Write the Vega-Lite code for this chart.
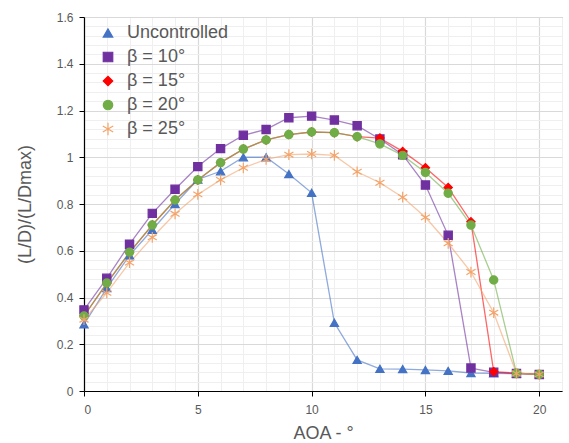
{
  "$schema": "https://vega.github.io/schema/vega-lite/v6.json",
  "width": 478,
  "height": 374,
  "autosize": "none",
  "padding": {"left": 84, "top": 17, "right": 7, "bottom": 52},
  "background": "white",
  "config": {
    "font": "Liberation Sans",
    "view": {"stroke": "#595959", "strokeWidth": 1}
  },
  "datasets": {
    "d": [
      {"aoa":0,"v":0.285,"s":"Uncontrolled"},{"aoa":1,"v":0.44,"s":"Uncontrolled"},{"aoa":2,"v":0.58,"s":"Uncontrolled"},{"aoa":3,"v":0.69,"s":"Uncontrolled"},{"aoa":4,"v":0.80,"s":"Uncontrolled"},{"aoa":5,"v":0.905,"s":"Uncontrolled"},{"aoa":6,"v":0.94,"s":"Uncontrolled"},{"aoa":7,"v":1.0,"s":"Uncontrolled"},{"aoa":8,"v":1.0,"s":"Uncontrolled"},{"aoa":9,"v":0.928,"s":"Uncontrolled"},{"aoa":10,"v":0.848,"s":"Uncontrolled"},{"aoa":11,"v":0.292,"s":"Uncontrolled"},{"aoa":12,"v":0.133,"s":"Uncontrolled"},{"aoa":13,"v":0.095,"s":"Uncontrolled"},{"aoa":14,"v":0.094,"s":"Uncontrolled"},{"aoa":15,"v":0.09,"s":"Uncontrolled"},{"aoa":16,"v":0.086,"s":"Uncontrolled"},{"aoa":17,"v":0.077,"s":"Uncontrolled"},{"aoa":18,"v":0.076,"s":"Uncontrolled"},{"aoa":19,"v":0.074,"s":"Uncontrolled"},{"aoa":20,"v":0.071,"s":"Uncontrolled"},
      {"aoa":0,"v":0.347,"s":"β = 10°"},{"aoa":1,"v":0.482,"s":"β = 10°"},{"aoa":2,"v":0.628,"s":"β = 10°"},{"aoa":3,"v":0.76,"s":"β = 10°"},{"aoa":4,"v":0.863,"s":"β = 10°"},{"aoa":5,"v":0.96,"s":"β = 10°"},{"aoa":6,"v":1.037,"s":"β = 10°"},{"aoa":7,"v":1.094,"s":"β = 10°"},{"aoa":8,"v":1.119,"s":"β = 10°"},{"aoa":9,"v":1.169,"s":"β = 10°"},{"aoa":10,"v":1.176,"s":"β = 10°"},{"aoa":11,"v":1.159,"s":"β = 10°"},{"aoa":12,"v":1.135,"s":"β = 10°"},{"aoa":13,"v":1.078,"s":"β = 10°"},{"aoa":14,"v":1.011,"s":"β = 10°"},{"aoa":15,"v":0.881,"s":"β = 10°"},{"aoa":16,"v":0.666,"s":"β = 10°"},{"aoa":17,"v":0.098,"s":"β = 10°"},{"aoa":18,"v":0.08,"s":"β = 10°"},{"aoa":19,"v":0.075,"s":"β = 10°"},{"aoa":20,"v":0.071,"s":"β = 10°"},
      {"aoa":0,"v":0.321,"s":"β = 15°"},{"aoa":1,"v":0.46,"s":"β = 15°"},{"aoa":2,"v":0.592,"s":"β = 15°"},{"aoa":3,"v":0.71,"s":"β = 15°"},{"aoa":4,"v":0.817,"s":"β = 15°"},{"aoa":5,"v":0.903,"s":"β = 15°"},{"aoa":6,"v":0.977,"s":"β = 15°"},{"aoa":7,"v":1.035,"s":"β = 15°"},{"aoa":8,"v":1.074,"s":"β = 15°"},{"aoa":9,"v":1.097,"s":"β = 15°"},{"aoa":10,"v":1.108,"s":"β = 15°"},{"aoa":11,"v":1.105,"s":"β = 15°"},{"aoa":12,"v":1.088,"s":"β = 15°"},{"aoa":13,"v":1.082,"s":"β = 15°"},{"aoa":14,"v":1.025,"s":"β = 15°"},{"aoa":15,"v":0.955,"s":"β = 15°"},{"aoa":16,"v":0.871,"s":"β = 15°"},{"aoa":17,"v":0.724,"s":"β = 15°"},{"aoa":18,"v":0.083,"s":"β = 15°"},{"aoa":19,"v":0.076,"s":"β = 15°"},{"aoa":20,"v":0.071,"s":"β = 15°"},
      {"aoa":0,"v":0.321,"s":"β = 20°"},{"aoa":1,"v":0.462,"s":"β = 20°"},{"aoa":2,"v":0.594,"s":"β = 20°"},{"aoa":3,"v":0.71,"s":"β = 20°"},{"aoa":4,"v":0.817,"s":"β = 20°"},{"aoa":5,"v":0.903,"s":"β = 20°"},{"aoa":6,"v":0.977,"s":"β = 20°"},{"aoa":7,"v":1.035,"s":"β = 20°"},{"aoa":8,"v":1.074,"s":"β = 20°"},{"aoa":9,"v":1.097,"s":"β = 20°"},{"aoa":10,"v":1.108,"s":"β = 20°"},{"aoa":11,"v":1.105,"s":"β = 20°"},{"aoa":12,"v":1.088,"s":"β = 20°"},{"aoa":13,"v":1.057,"s":"β = 20°"},{"aoa":14,"v":1.008,"s":"β = 20°"},{"aoa":15,"v":0.935,"s":"β = 20°"},{"aoa":16,"v":0.846,"s":"β = 20°"},{"aoa":17,"v":0.71,"s":"β = 20°"},{"aoa":18,"v":0.475,"s":"β = 20°"},{"aoa":19,"v":0.076,"s":"β = 20°"},{"aoa":20,"v":0.071,"s":"β = 20°"},
      {"aoa":0,"v":0.305,"s":"β = 25°"},{"aoa":1,"v":0.42,"s":"β = 25°"},{"aoa":2,"v":0.549,"s":"β = 25°"},{"aoa":3,"v":0.657,"s":"β = 25°"},{"aoa":4,"v":0.758,"s":"β = 25°"},{"aoa":5,"v":0.841,"s":"β = 25°"},{"aoa":6,"v":0.903,"s":"β = 25°"},{"aoa":7,"v":0.955,"s":"β = 25°"},{"aoa":8,"v":0.991,"s":"β = 25°"},{"aoa":9,"v":1.011,"s":"β = 25°"},{"aoa":10,"v":1.014,"s":"β = 25°"},{"aoa":11,"v":1.008,"s":"β = 25°"},{"aoa":12,"v":0.938,"s":"β = 25°"},{"aoa":13,"v":0.891,"s":"β = 25°"},{"aoa":14,"v":0.829,"s":"β = 25°"},{"aoa":15,"v":0.743,"s":"β = 25°"},{"aoa":16,"v":0.632,"s":"β = 25°"},{"aoa":17,"v":0.509,"s":"β = 25°"},{"aoa":18,"v":0.335,"s":"β = 25°"},{"aoa":19,"v":0.075,"s":"β = 25°"},{"aoa":20,"v":0.071,"s":"β = 25°"}
    ]
  },
  "data": {"name": "d"},
  "resolve": {"axis": {"x": "independent", "y": "independent"}},
  "layer": [
    {
      "mark": {"type": "point", "opacity": 0},
      "encoding": {
        "x": {"field": "aoa", "type": "quantitative", "scale": {"domain": [0, 21], "nice": false},
          "axis": {"orient": "bottom", "values": [0,1,2,3,4,5,6,7,8,9,10,11,12,13,14,15,16,17,18,19,20,21], "grid": true, "gridColor": "#efefef", "gridWidth": 1, "labels": false, "ticks": false, "domain": false, "title": null}},
        "y": {"field": "v", "type": "quantitative", "scale": {"domain": [0, 1.6], "nice": false},
          "axis": {"orient": "left", "values": [0,0.04,0.08,0.12,0.16,0.2,0.24,0.28,0.32,0.36,0.4,0.44,0.48,0.52,0.56,0.6,0.64,0.68,0.72,0.76,0.8,0.84,0.88,0.92,0.96,1,1.04,1.08,1.12,1.16,1.2,1.24,1.28,1.32,1.36,1.4,1.44,1.48,1.52,1.56,1.6], "grid": true, "gridColor": "#efefef", "gridWidth": 1, "labels": false, "ticks": false, "domain": false, "title": null}}
      }
    },
    {
      "mark": {"type": "line", "strokeWidth": 1.3, "opacity": 0.6},
      "encoding": {
        "x": {"field": "aoa", "type": "quantitative",
          "axis": {"orient": "bottom", "values": [0,5,10,15,20], "grid": true, "gridColor": "#d9d9d9", "gridWidth": 1.2, "domainColor": "#000000", "domainWidth": 1.2, "tickColor": "#000000", "tickSize": 5, "labelFontSize": 12, "labelColor": "#595959", "labelPadding": 8, "title": "AOA - °", "titleFontSize": 18, "titleFontWeight": "normal", "titleColor": "#595959", "titlePadding": 9}},
        "y": {"field": "v", "type": "quantitative",
          "axis": {"orient": "left", "values": [0,0.2,0.4,0.6,0.8,1,1.2,1.4,1.6], "format": ".1~f", "grid": true, "gridColor": "#d9d9d9", "gridWidth": 1.2, "domainColor": "#000000", "domainWidth": 1.2, "tickColor": "#000000", "tickSize": 5, "labelFontSize": 12, "labelColor": "#595959", "labelPadding": 6, "title": "(L/D)/(L/Dmax)", "titleFontSize": 18, "titleFontWeight": "normal", "titleColor": "#595959", "titlePadding": 22}},
        "color": {"field": "s", "type": "nominal", "title": null,
          "scale": {"domain": ["Uncontrolled","β = 10°","β = 15°","β = 20°","β = 25°"], "range": ["#4472C4","#7030A0","#FF0000","#70AD47","#F4A46A"]},
          "legend": {"orient": "none", "legendX": 15, "legendY": 7, "labelFontSize": 18, "labelColor": "#595959", "symbolSize": 90, "symbolOpacity": 1, "rowPadding": 6, "labelOffset": 10, "symbolStrokeWidth": 1.2, "title": null}},
        "order": {"field": "aoa"}
      }
    },
    {
      "mark": {"type": "point", "filled": true, "opacity": 1, "strokeWidth": 1.2},
      "encoding": {
        "x": {"field": "aoa", "type": "quantitative", "axis": null},
        "y": {"field": "v", "type": "quantitative", "axis": null},
        "color": {"field": "s", "type": "nominal", "title": null,
          "scale": {"domain": ["Uncontrolled","β = 10°","β = 15°","β = 20°","β = 25°"], "range": ["#4472C4","#7030A0","#FF0000","#70AD47","#F4A46A"]},
          "legend": {"orient": "none", "legendX": 15, "legendY": 7, "labelFontSize": 18, "labelColor": "#595959", "symbolSize": 90, "symbolOpacity": 1, "rowPadding": 6, "labelOffset": 10, "symbolStrokeWidth": 1.2, "title": null}},
        "stroke": {"field": "s", "type": "nominal", "title": null,
          "scale": {"domain": ["Uncontrolled","β = 10°","β = 15°","β = 20°","β = 25°"], "range": ["#4472C4","#7030A0","#FF0000","#70AD47","#F4A46A"]}},
        "shape": {"field": "s", "type": "nominal", "title": null,
          "scale": {"domain": ["Uncontrolled","β = 10°","β = 15°","β = 20°","β = 25°"], "range": ["triangle-up","square","diamond","circle","M0,-1.3L0,1.3M-1.1,-0.65L1.1,0.65M-1.1,0.65L1.1,-0.65"]}},
        "size": {"value": 68}
      }
    }
  ]
}
